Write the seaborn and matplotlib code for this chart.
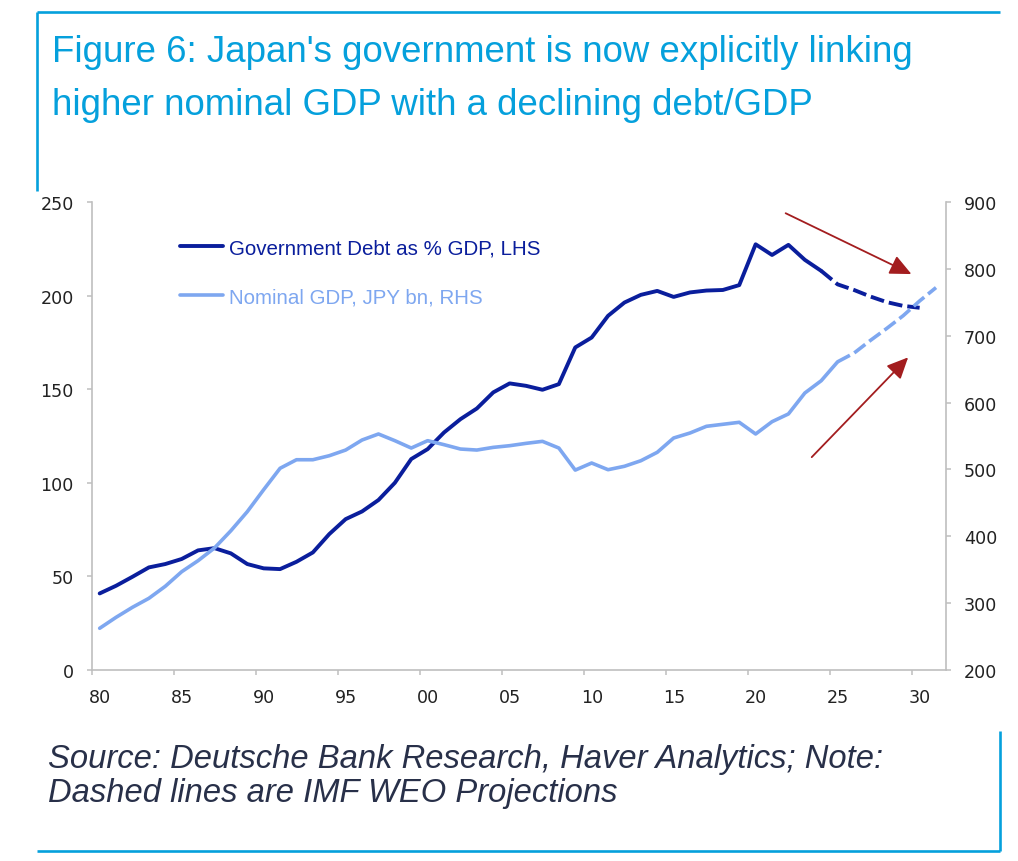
import matplotlib
matplotlib.use("Agg")
import matplotlib.pyplot as plt
from matplotlib.lines import Line2D
import numpy as np
import pandas as pd
import seaborn as sns

# ---------------- data ----------------
debt_years_hist = list(range(1980, 2025))      # 1980..2024 (solid)
debt_hist = [40.9, 45.0, 49.8, 54.8, 56.6, 59.3, 63.9, 65.1, 62.3, 56.6,
             54.3, 53.9, 57.8, 62.8, 72.6, 80.6, 84.7, 90.8, 100.0, 112.7,
             118.0, 126.9, 134.0, 139.7, 148.3, 153.1, 151.8, 149.7, 152.7, 172.3,
             177.6, 189.2, 196.3, 200.4, 202.5, 199.3, 201.7, 202.7, 203.0, 205.6,
             227.4, 221.7, 227.1, 219.1, 213.2]
debt_years_proj = list(range(2024, 2031))
debt_proj = [213.2, 206.0, 203.0, 199.5, 196.5, 194.5, 193.5]

gdp_years_hist = list(range(1980, 2026))
gdp_hist = [262.4, 278.8, 293.8, 307.2, 325.2, 347.0, 363.5, 382.5, 408.3, 436.8,
            469.7, 501.7, 514.5, 514.5, 520.5, 529.0, 544.0, 553.0, 543.0, 532.0,
            543.0, 537.0, 530.5, 529.0, 533.0, 535.5, 539.0, 542.0, 532.0, 499.0,
            509.6, 499.6, 504.7, 513.0, 525.6, 547.0, 554.5, 564.5, 567.5, 570.5,
            553.0, 571.4, 583.0, 614.3, 632.7, 661.0]
gdp_years_proj = list(range(2025, 2032))
gdp_proj = [661.0, 674.0, 693.0, 711.0, 730.0, 752.0, 772.0]

tick_years = list(range(1980, 2031, 5))
tick_labels = ["80", "85", "90", "95", "00", "05", "10", "15", "20", "25", "30"]
lhs_ticks = [0, 50, 100, 150, 200, 250]
rhs_ticks = [200, 300, 400, 500, 600, 700, 800, 900]

legend_labels = ["Government Debt as % GDP, LHS", "Nominal GDP, JPY bn, RHS"]
title_lines = ["Figure 6: Japan's government is now explicitly linking",
               "higher nominal GDP with a declining debt/GDP"]
source_lines = ["Source: Deutsche Bank Research, Haver Analytics; Note:",
                "Dashed lines are IMF WEO Projections"]

# ---------------- style ----------------
sns.set_theme(style="white")
plt.rcParams["font.family"] = ["Liberation Sans", "DejaVu Sans"]
plt.rcParams["lines.scale_dashes"] = False

DEBT_C = "#0A1E9C"
GDP_C = "#7EA7F0"
FRAME_C = "#05A0DC"
GRID_C = "#BFBFBF"
TXT_C = "#222222"
ARROW_C = "#A31D1F"
TICK_FONT = dict(family=["DejaVu Sans"], size=12.6)

W, H = 1018, 862
fig = plt.figure(figsize=(W / 100, H / 100), dpi=100)
ax = fig.add_axes([92.3 / W, 191 / H, (945.7 - 92.3) / W, 468 / H])
ax2 = ax.twinx()

df_dh = pd.DataFrame({"year": debt_years_hist, "v": debt_hist})
df_dp = pd.DataFrame({"year": debt_years_proj, "v": debt_proj})
df_gh = pd.DataFrame({"year": gdp_years_hist, "v": gdp_hist})
df_gp = pd.DataFrame({"year": gdp_years_proj, "v": gdp_proj})

sns.lineplot(data=df_dh, x="year", y="v", ax=ax, color=DEBT_C, linewidth=2.8)
sns.lineplot(data=df_dp, x="year", y="v", ax=ax, color=DEBT_C, linewidth=2.8)
ax.lines[-1].set_dashes([10, 3.6])
sns.lineplot(data=df_gh, x="year", y="v", ax=ax2, color=GDP_C, linewidth=2.6)
sns.lineplot(data=df_gp, x="year", y="v", ax=ax2, color=GDP_C, linewidth=2.6)
ax2.lines[-1].set_dashes([10, 3.6])

# x axis
x0 = 1979.55
ax.set_xlim(x0, x0 + 52.04)
ax.set_xticks([y - 0.45 for y in tick_years])
ax.set_xticklabels([])
ax.set_xticks([y + 0.03 for y in tick_years], minor=True)
ax.set_xticklabels(tick_labels, minor=True, fontdict=TICK_FONT)
ax.tick_params(axis="x", which="major", direction="out", length=3.8, width=1.1,
               color=GRID_C, bottom=True)
ax.tick_params(axis="x", which="minor", length=0, pad=13, labelcolor=TXT_C, bottom=True)

# y axes
ax.set_ylim(0, 250)
ax.set_yticks(lhs_ticks)
ax.set_yticklabels([str(v) for v in lhs_ticks], fontdict=TICK_FONT)
ax.tick_params(axis="y", direction="out", length=3.8, width=1.1, color=GRID_C,
               pad=9.5, labelcolor=TXT_C, left=True)
ax2.set_ylim(200, 900)
ax2.set_yticks(rhs_ticks)
ax2.set_yticklabels([str(v) for v in rhs_ticks], fontdict=TICK_FONT)
ax2.tick_params(axis="y", direction="out", length=3.8, width=1.1, color=GRID_C,
                pad=9.4, labelcolor=TXT_C, right=True)
for a in (ax, ax2):
    a.set_xlabel("")
    a.set_ylabel("")
    a.grid(False)
    a.spines["top"].set_visible(False)
    for s in ("left", "right", "bottom"):
        a.spines[s].set_color(GRID_C)
        a.spines[s].set_linewidth(1.2)
ax.spines["right"].set_visible(False)
ax2.spines["left"].set_visible(False)
ax2.spines["bottom"].set_visible(False)

# legend
handles = [Line2D([], [], color=DEBT_C, lw=2.8), Line2D([], [], color=GDP_C, lw=2.6)]
ax2.legend(handles, legend_labels, loc="upper left", bbox_to_anchor=(0.103, 0.922),
           frameon=False, fontsize=14.8, handlelength=2.1, handletextpad=0.25,
           labelspacing=1.45, borderpad=0, borderaxespad=0,
           labelcolor=[DEBT_C, GDP_C])

# arrows
arrow_kw = dict(arrowstyle="-|>,head_length=0.65,head_width=0.3", color=ARROW_C,
                lw=1.3, shrinkA=0, shrinkB=0, mutation_scale=20)
ax.annotate("", xy=(2029.5, 211.5), xytext=(2021.83, 244.0), arrowprops=arrow_kw,
            annotation_clip=False)
ax.annotate("", xy=(2029.3, 167.0), xytext=(2023.42, 113.7), arrowprops=arrow_kw,
            annotation_clip=False)

# title and source
fig.text(51.7 / W, 1 - 62 / H, title_lines[0], fontsize=26.4, color=FRAME_C, va="baseline", ha="left")
fig.text(51.7 / W, 1 - 115 / H, title_lines[1], fontsize=26.4, color=FRAME_C, va="baseline", ha="left")
fig.text(48 / W, 1 - 768 / H, source_lines[0], fontsize=23.6, style="italic", color="#283049",
         va="baseline", ha="left")
fig.text(48 / W, 1 - 802 / H, source_lines[1], fontsize=23.6, style="italic", color="#283049",
         va="baseline", ha="left")

# frame lines
def fline(xs, ys):
    fig.add_artist(Line2D([x / W for x in xs], [1 - y / H for y in ys],
                          transform=fig.transFigure, color=FRAME_C, lw=1.9,
                          solid_capstyle="butt"))

fline([37, 1000], [13, 13])
fline([37, 37], [13, 192])
fline([37, 1000], [852, 852])
fline([1000, 1000], [732, 852])

fig.savefig("out.png", dpi=100)
